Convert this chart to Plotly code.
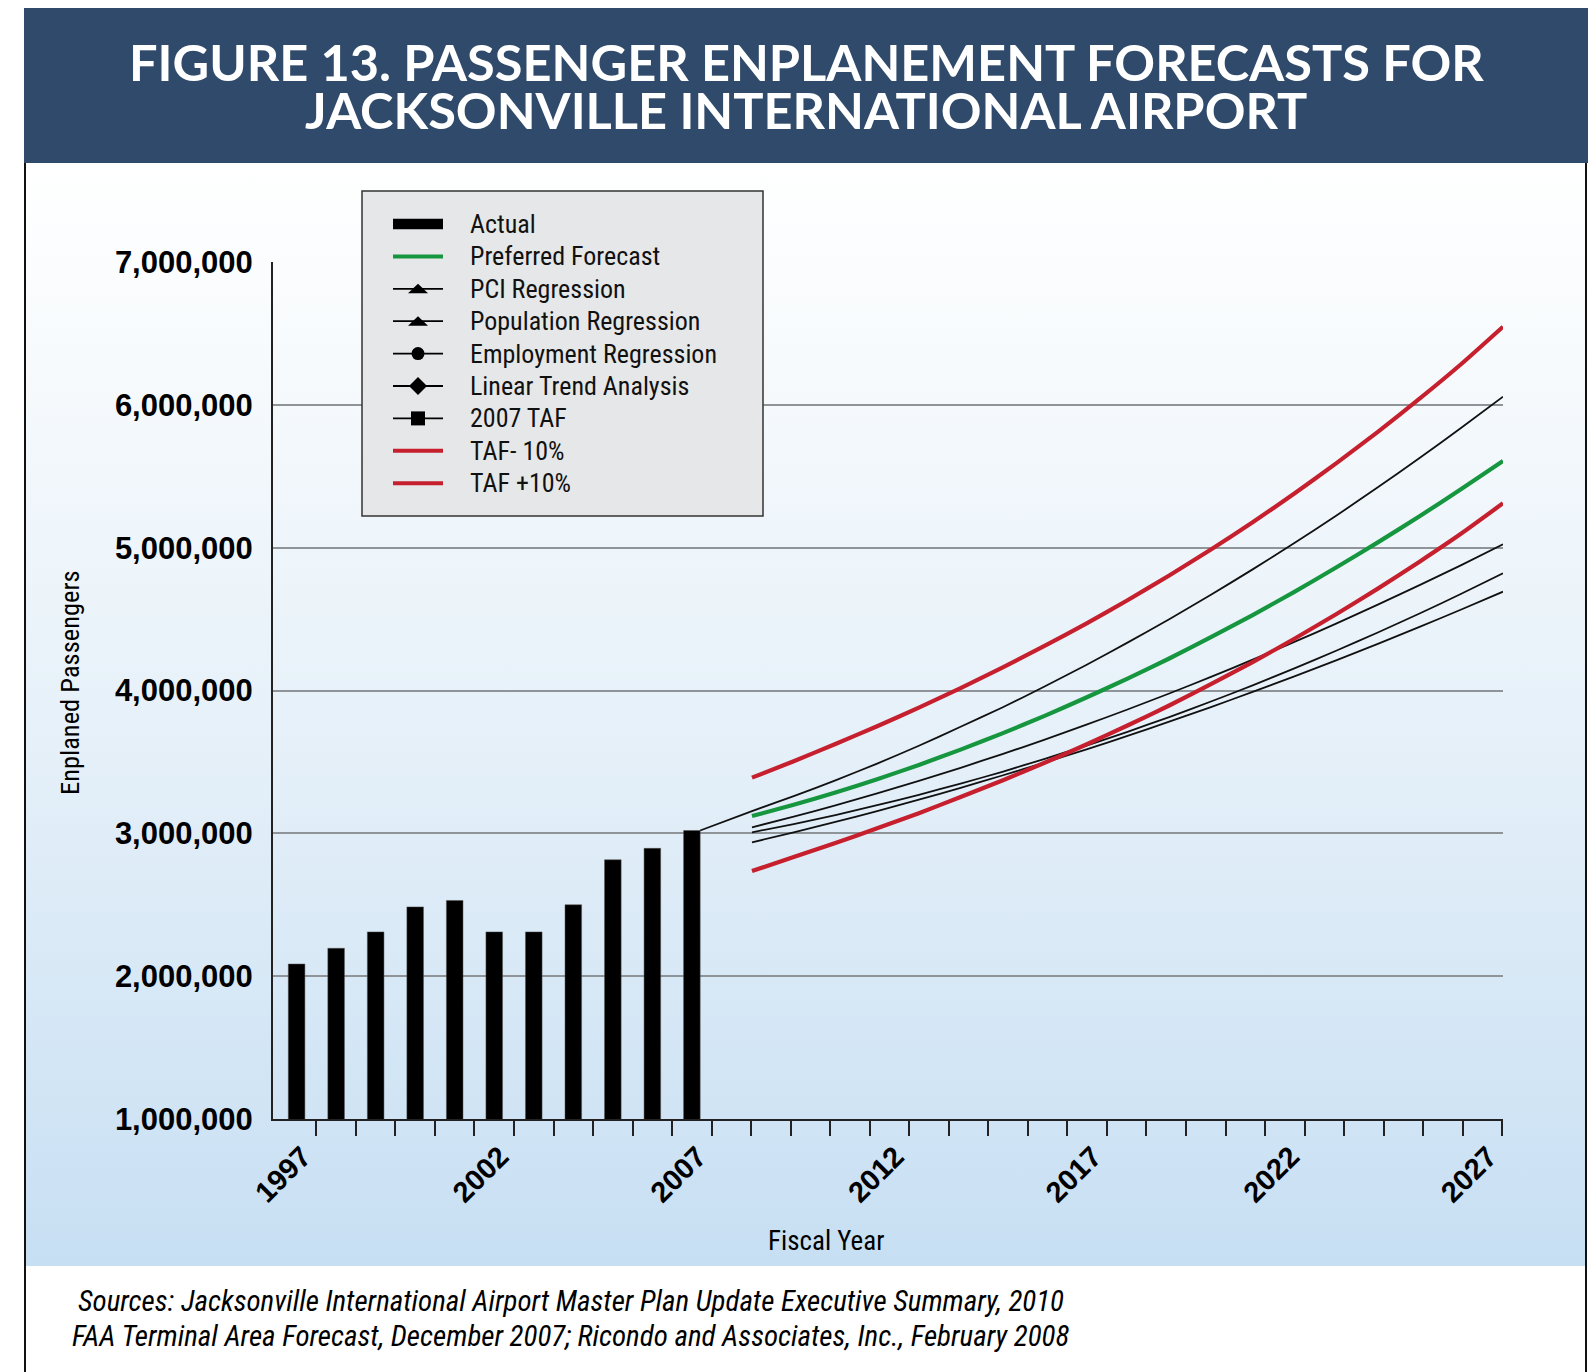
import base64
import plotly.graph_objects as go

# ---------------- data (passengers, millions) ----------------
actual_years = [1997, 1998, 1999, 2000, 2001, 2002, 2003, 2004, 2005, 2006, 2007]
actual_values = [2.085, 2.195, 2.31, 2.485, 2.53, 2.31, 2.31, 2.50, 2.815, 2.895, 3.02]

forecast_years = list(range(2009, 2028))
taf_plus10 = [3.39, 3.505, 3.625, 3.750, 3.880, 4.017, 4.160, 4.310, 4.467, 4.632,
              4.805, 4.987, 5.178, 5.379, 5.590, 5.811, 6.043, 6.286, 6.547]
taf_minus10 = [2.736, 2.834, 2.933, 3.035, 3.141, 3.254, 3.370, 3.492, 3.620, 3.755,
               3.895, 4.044, 4.199, 4.362, 4.534, 4.713, 4.902, 5.099, 5.311]
taf_2007 = [3.156, 3.260, 3.371, 3.488, 3.613, 3.746, 3.881, 4.026, 4.177, 4.335,
            4.499, 4.670, 4.848, 5.032, 5.223, 5.423, 5.627, 5.840, 6.057]
preferred = [3.121, 3.200, 3.286, 3.379, 3.479, 3.586, 3.700, 3.821, 3.949, 4.083,
             4.224, 4.373, 4.528, 4.691, 4.861, 5.037, 5.220, 5.410, 5.607]
pci_regression = [3.042, 3.117, 3.196, 3.280, 3.368, 3.459, 3.555, 3.654, 3.759, 3.867,
                  3.979, 4.095, 4.216, 4.340, 4.468, 4.601, 4.738, 4.878, 5.024]
population_regression = [3.007, 3.065, 3.128, 3.197, 3.270, 3.348, 3.431, 3.520, 3.613, 3.711,
                         3.814, 3.923, 4.036, 4.155, 4.278, 4.406, 4.539, 4.677, 4.821]
employment_regression = [2.937, 3.007, 3.080, 3.156, 3.236, 3.318, 3.405, 3.494, 3.586, 3.682,
                         3.782, 3.884, 3.990, 4.099, 4.211, 4.327, 4.445, 4.567, 4.692]

legend_labels = ["Actual", "Preferred Forecast", "PCI Regression", "Population Regression",
                 "Employment Regression", "Linear Trend Analysis", "2007 TAF",
                 "TAF- 10%", "TAF +10%"]
y_ticks = [1, 2, 3, 4, 5, 6, 7]
x_label_years = [1997, 2002, 2007, 2012, 2017, 2022, 2027]

M = 1_000_000
def mil(vals):
    return [v * M for v in vals]

# ---------------- layout constants ----------------
W, H = 1595, 1372
ML, MR, MT, MB = 273, 92, 262, 253
PW, PH = W - ML - MR, H - MT - MB
X_RANGE = [1996.403, 2027.52]
X2_RANGE = [1997.52, 2027.0]
BAR_WIDTH = 0.42

RED = "#c6202f"
GREEN = "#15963f"
BLACK = "#111111"
NARROW = "Liberation Sans Narrow, Roboto Condensed, Arial Narrow, Liberation Sans, sans-serif"
BOLD = "Liberation Sans, Arial, sans-serif"

def px2x(px):
    return (px - ML) / PW

def py2y(py):
    return (H - MB - py) / PH

def x_to_x2(x):
    return X2_RANGE[0] + (x - X_RANGE[0]) * (X2_RANGE[1] - X2_RANGE[0]) / (X_RANGE[1] - X_RANGE[0])

fig = go.Figure()

# bars
fig.add_trace(go.Bar(x=actual_years, y=mil(actual_values), width=BAR_WIDTH,
                     marker=dict(color="black", line=dict(color="#555", width=0.5)),
                     showlegend=False, name="Actual", xaxis="x", yaxis="y"))

# forecast lines (secondary year axis)
def line(y, color, width, name, x=None):
    fig.add_trace(go.Scatter(x=x if x is not None else forecast_years, y=mil(y), mode="lines",
                             line=dict(color=color, width=width, shape="spline", smoothing=0.5),
                             showlegend=False, name=name, xaxis="x2", yaxis="y"))

edge_x2 = x_to_x2(actual_years[-1] + BAR_WIDTH / 2)
line([actual_values[-1]] + taf_2007, BLACK, 1.8, "2007 TAF", x=[edge_x2] + forecast_years)
line(pci_regression, BLACK, 1.8, "PCI Regression")
line(population_regression, BLACK, 1.8, "Population Regression")
line(employment_regression, BLACK, 1.8, "Employment Regression")
line(preferred, GREEN, 4.2, "Preferred Forecast")
line(taf_minus10, RED, 4.2, "TAF- 10%")
line(taf_plus10, RED, 4.2, "TAF +10%")

# gradient background
svg = ('<svg xmlns="http://www.w3.org/2000/svg" width="100" height="100" viewBox="0 0 100 100" '
       'preserveAspectRatio="none"><defs><linearGradient id="g" x1="0" y1="0" x2="0" y2="1">'
       '<stop offset="0" stop-color="#ffffff"/><stop offset="0.15" stop-color="#f8fbfd"/>'
       '<stop offset="0.5" stop-color="#e7f1f9"/><stop offset="1" stop-color="#c7dff3"/>'
       '</linearGradient></defs><rect width="100" height="100" fill="url(#g)"/></svg>')
svg_src = "data:image/svg+xml;base64," + base64.b64encode(svg.encode()).decode()

def prect(x0, y0, x1, y1, **kw):
    return dict(type="rect", xref="paper", yref="paper", x0=px2x(x0), x1=px2x(x1),
                y0=py2y(y1), y1=py2y(y0), **kw)

def ppath(points, **kw):
    d = "M" + " L".join(f"{px2x(a):.5f},{py2y(b):.5f}" for a, b in points) + " Z"
    return dict(type="path", xref="paper", yref="paper", path=d, **kw)

shapes = [
    prect(25, 162, 1586, 1390, line=dict(color="#111", width=2), fillcolor="rgba(0,0,0,0)", layer="above"),
    prect(24, 8, 1588, 163, line=dict(width=0), fillcolor="#2f4a6a", layer="above"),
]

# ---------------- manual legend ----------------
LEG_BOX = (362, 191, 763, 516)
LEG_ROW0, LEG_DY = 224, 32.4
GX0, GX1 = 393, 443
GXC = (GX0 + GX1) / 2
TEXT_X = 468
leg_kinds = ["bar", "green", "tri", "tri", "circle", "diamond", "square", "red", "red"]

shapes.append(prect(*LEG_BOX, line=dict(color="#333", width=1.5), fillcolor="#e6e7e8", layer="above"))
annotations = []
for i, (lab, kind) in enumerate(zip(legend_labels, leg_kinds)):
    yc = LEG_ROW0 + i * LEG_DY
    if kind == "bar":
        shapes.append(prect(GX0, yc - 5.3, GX1, yc + 5.3, line=dict(width=0), fillcolor="black", layer="above"))
    else:
        col = {"green": GREEN, "red": RED}.get(kind, "black")
        wid = 4 if kind in ("green", "red") else 1.8
        shapes.append(dict(type="line", xref="paper", yref="paper", x0=px2x(GX0), x1=px2x(GX1),
                           y0=py2y(yc), y1=py2y(yc), line=dict(color=col, width=wid), layer="above"))
        mk = dict(line=dict(width=0), fillcolor="black", layer="above")
        if kind == "tri":
            shapes.append(ppath([(GXC - 10, yc + 4.5), (GXC + 10, yc + 4.5), (GXC, yc - 5)], **mk))
        elif kind == "circle":
            shapes.append(dict(type="circle", xref="paper", yref="paper", x0=px2x(GXC - 6.5), x1=px2x(GXC + 6.5),
                               y0=py2y(yc + 6.5), y1=py2y(yc - 6.5), **mk))
        elif kind == "diamond":
            shapes.append(ppath([(GXC, yc - 9), (GXC + 9, yc), (GXC, yc + 9), (GXC - 9, yc)], **mk))
        elif kind == "square":
            shapes.append(prect(GXC - 7, yc - 7, GXC + 7, yc + 7, **mk))
    annotations.append(dict(text=lab, x=px2x(TEXT_X), y=py2y(yc), xanchor="left", yanchor="middle",
                            font=dict(family=NARROW, size=26, color="#111")))

annotations += [
    dict(text="FIGURE 13. PASSENGER ENPLANEMENT FORECASTS FOR", x=px2x(806), y=py2y(61), height=46,
         font=dict(family="Lato, sans-serif", size=50.5, color="white", weight="bold")),
    dict(text="JACKSONVILLE INTERNATIONAL AIRPORT", x=px2x(806), y=py2y(109), height=46,
         font=dict(family="Lato, sans-serif", size=50.5, color="white", weight="bold")),
    dict(text="Enplaned Passengers", x=px2x(69), y=py2y(683), textangle=-90,
         font=dict(family=NARROW, size=26.5, color="black")),
    dict(text="Fiscal Year", x=px2x(826), y=py2y(1241),
         font=dict(family=NARROW, size=27, color="black")),
    dict(text="<i>Sources: Jacksonville International Airport Master Plan Update Executive Summary, 2010</i>",
         x=px2x(571), y=py2y(1301), font=dict(family=NARROW, size=29, color="black")),
    dict(text="<i>FAA Terminal Area Forecast, December 2007; Ricondo and Associates, Inc., February 2008</i>",
         x=px2x(570), y=py2y(1336), font=dict(family=NARROW, size=29, color="black")),
]
for a in annotations:
    a.update(xref="paper", yref="paper", showarrow=False)
    a.setdefault("xanchor", "center")
    a.setdefault("yanchor", "middle")

boundary_ticks = [y + 0.5 for y in range(actual_years[0], forecast_years[-1] + 1)]

fig.update_layout(
    width=W, height=H,
    margin=dict(l=ML, r=MR, t=MT, b=MB, autoexpand=False),
    paper_bgcolor="white", plot_bgcolor="rgba(0,0,0,0)",
    barmode="overlay", showlegend=False,
    xaxis=dict(range=X_RANGE, tickmode="array", tickvals=x_label_years,
               ticktext=[str(v) for v in x_label_years], ticks="", tickangle=-45,
               tickfont=dict(family=BOLD, size=29, color="black", weight="bold"),
               ticklabelstandoff=7, ticklabelshift=6,
               showline=True, linecolor="#222", linewidth=2, showgrid=False, zeroline=False,
               minor=dict(tickmode="array", tickvals=boundary_ticks, ticks="outside",
                          ticklen=15, tickwidth=2, tickcolor="#222", showgrid=False)),
    xaxis2=dict(range=X2_RANGE, overlaying="x", anchor="y", visible=False),
    yaxis=dict(range=[1 * M, 7 * M], tickmode="array", tickvals=mil(y_ticks),
               tickformat=",.0f", ticks="", ticklabelstandoff=12,
               tickfont=dict(family=BOLD, size=31, color="black", weight="bold"),
               showline=True, linecolor="#222", linewidth=2,
               showgrid=True, gridcolor="#8f9499", gridwidth=1.5, zeroline=False),
    images=[dict(source=svg_src, xref="paper", yref="paper", x=px2x(26), y=py2y(163),
                 sizex=(1585 - 26) / PW, sizey=(1266 - 163) / PH, sizing="stretch",
                 xanchor="left", yanchor="top", layer="below")],
    shapes=shapes,
    annotations=annotations,
)

fig.write_html("out.html")
